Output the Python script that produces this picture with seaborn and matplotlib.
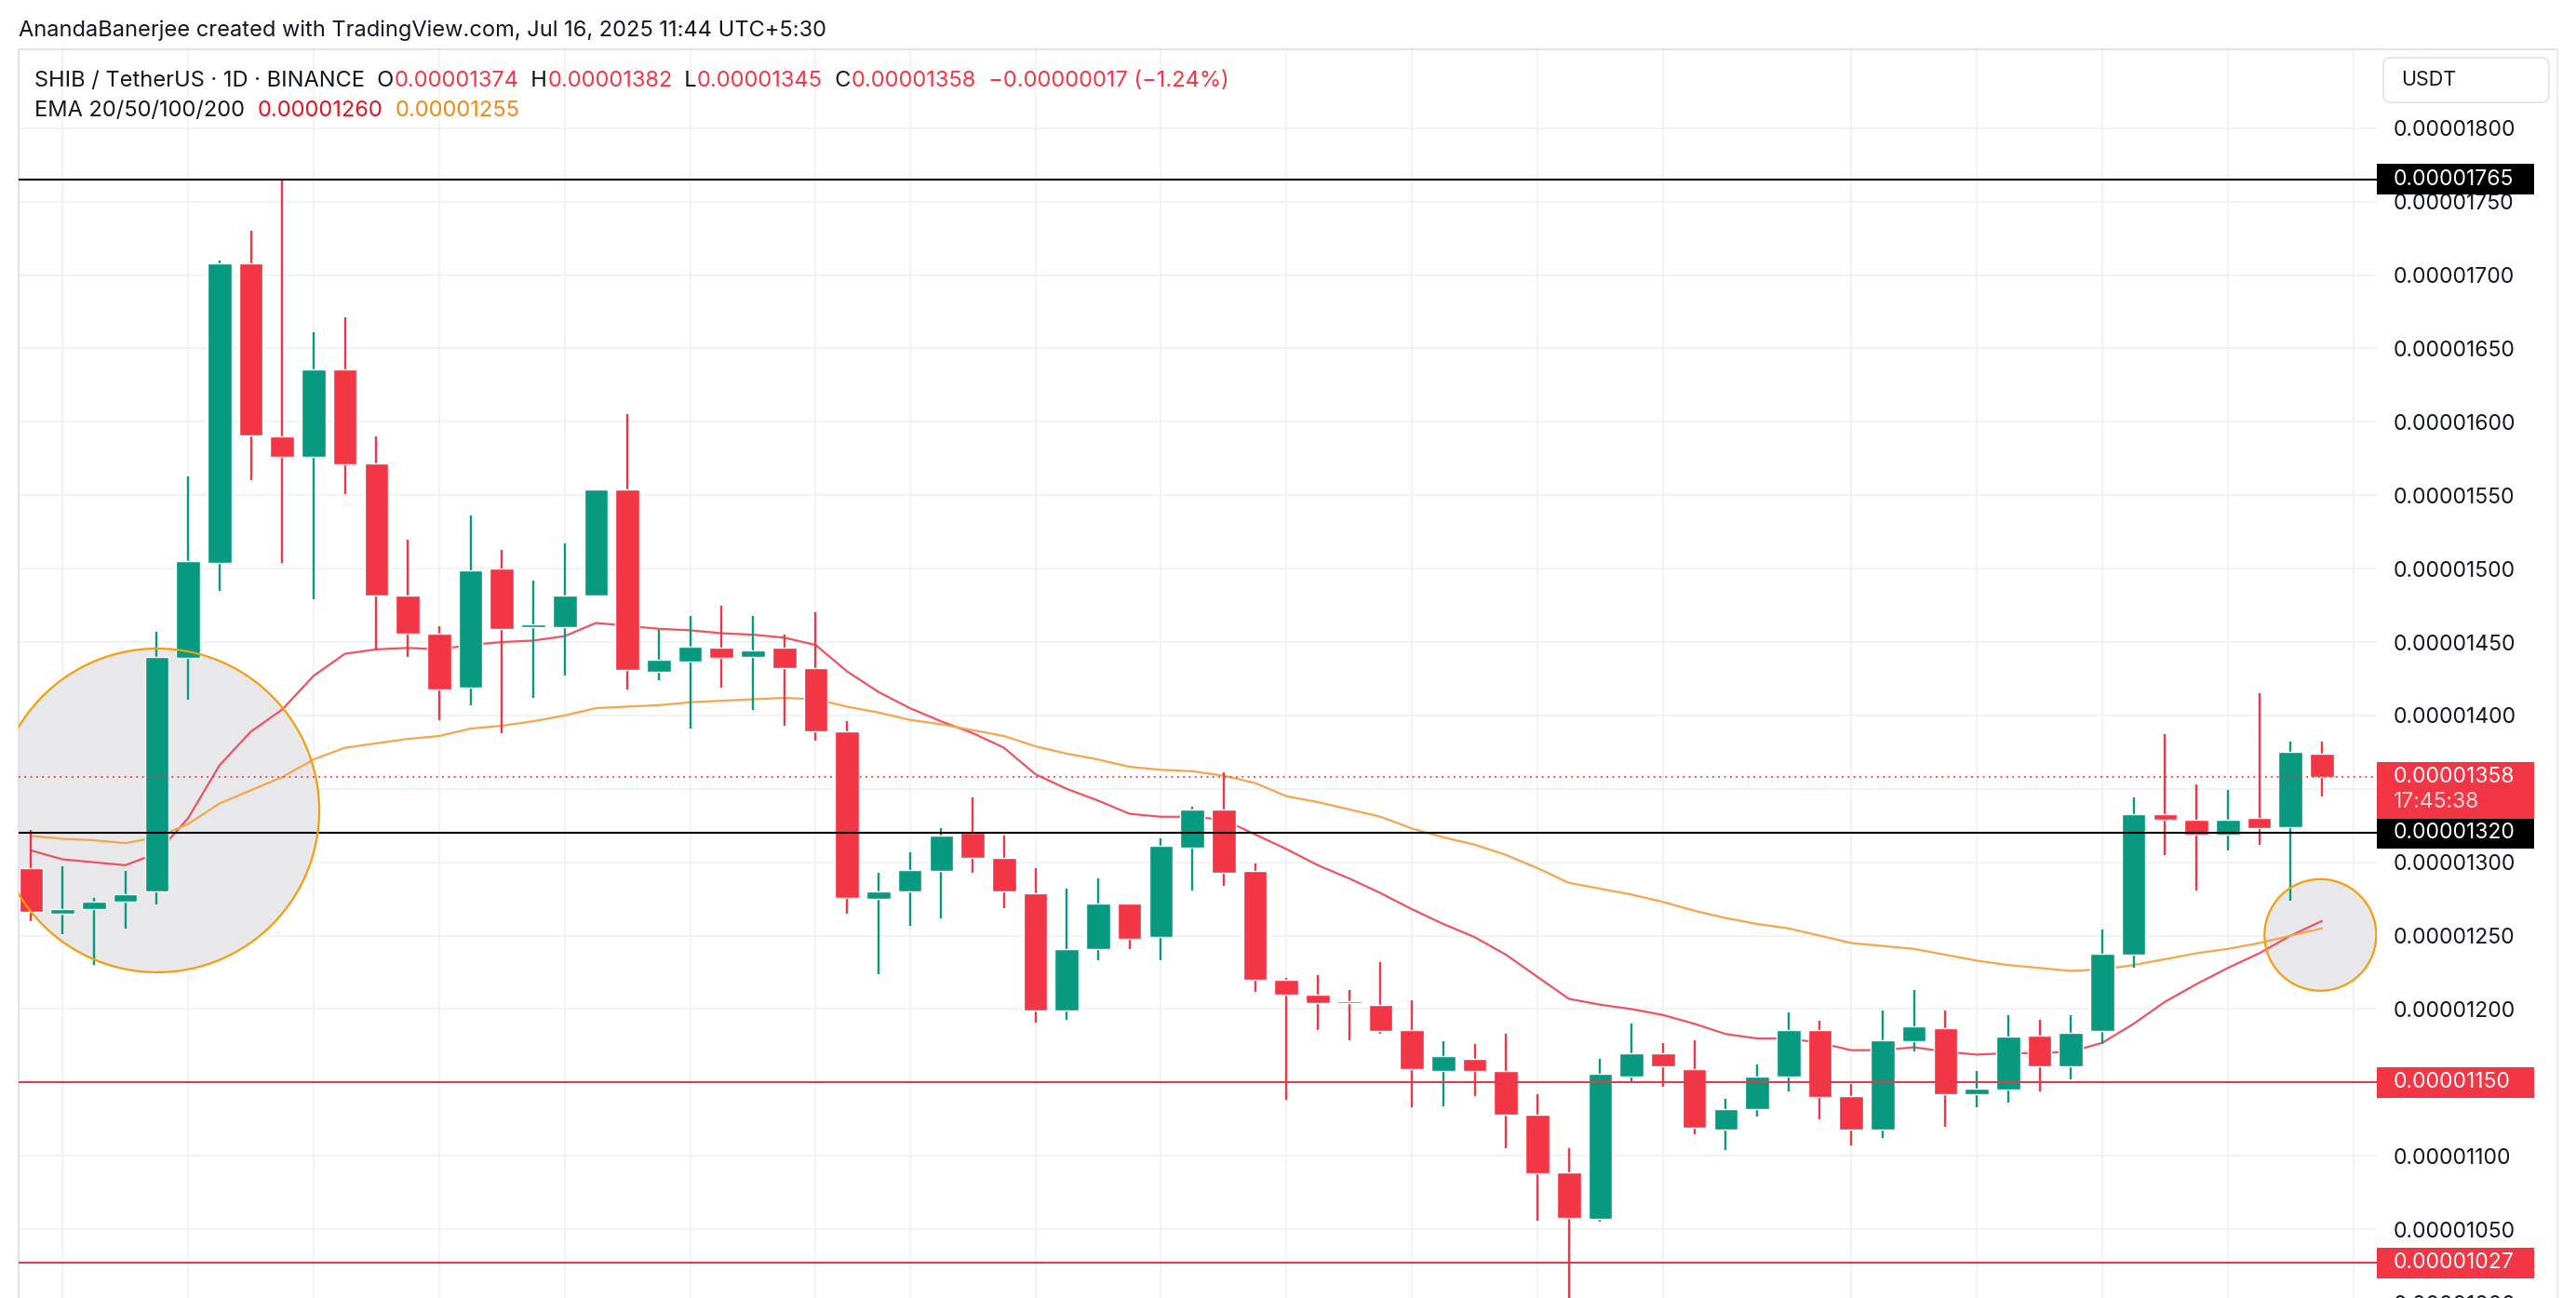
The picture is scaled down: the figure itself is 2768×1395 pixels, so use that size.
import numpy as np
import pandas as pd
import seaborn as sns
import matplotlib.pyplot as plt
from matplotlib.patches import Rectangle, Ellipse, FancyBboxPatch
from matplotlib.lines import Line2D
from matplotlib.ticker import FuncFormatter
from matplotlib.transforms import blended_transform_factory

# SHIB/USDT daily candles, prices in units of 1e-8 USDT (0.00001296 -> 1296)
opens = [1296, 1265, 1268, 1273, 1280, 1439, 1504, 1708, 1590, 1576,
         1636, 1572, 1482, 1456, 1419, 1500, 1460, 1460, 1482, 1554,
         1430, 1437, 1446, 1440, 1446, 1432, 1389, 1275, 1280, 1294,
         1320, 1303, 1279, 1199, 1241, 1272, 1249, 1310, 1336, 1294,
         1220, 1210, 1205, 1203, 1186, 1158, 1166, 1158, 1128, 1089,
         1057, 1154, 1170, 1159, 1118, 1132, 1154, 1186, 1141, 1118,
         1178, 1187, 1142, 1145, 1182, 1161, 1185, 1237, 1333, 1329,
         1319, 1330, 1324, 1374]
highs = [1322, 1297, 1276, 1294, 1457, 1563, 1710, 1730, 1765, 1661,
         1671, 1590, 1520, 1461, 1536, 1513, 1492, 1517, 1554, 1605,
         1458, 1468, 1475, 1468, 1455, 1470, 1396, 1293, 1307, 1323,
         1344, 1318, 1296, 1282, 1289, 1272, 1316, 1338, 1361, 1299,
         1221, 1223, 1213, 1232, 1206, 1178, 1176, 1183, 1142, 1105,
         1166, 1190, 1177, 1179, 1139, 1162, 1198, 1192, 1149, 1199,
         1213, 1199, 1158, 1196, 1193, 1196, 1254, 1344, 1387, 1353,
         1349, 1415, 1382, 1382]
lows = [1260, 1251, 1230, 1255, 1271, 1411, 1485, 1560, 1504, 1479,
        1551, 1445, 1440, 1397, 1407, 1388, 1412, 1427, 1482, 1418,
        1424, 1391, 1419, 1404, 1393, 1383, 1265, 1224, 1257, 1262,
        1293, 1269, 1191, 1193, 1233, 1241, 1233, 1281, 1284, 1212,
        1138, 1186, 1179, 1183, 1133, 1134, 1141, 1105, 1056, 995,
        1055, 1150, 1147, 1115, 1104, 1127, 1144, 1125, 1107, 1112,
        1171, 1120, 1133, 1136, 1144, 1152, 1176, 1228, 1305, 1281,
        1308, 1312, 1274, 1345]
closes = [1266, 1268, 1273, 1278, 1440, 1505, 1708, 1591, 1576, 1636,
          1571, 1482, 1456, 1418, 1499, 1459, 1462, 1482, 1554, 1431,
          1438, 1447, 1439, 1444, 1432, 1389, 1276, 1280, 1295, 1318,
          1303, 1280, 1199, 1241, 1272, 1248, 1311, 1336, 1293, 1220,
          1210, 1204, 1204, 1185, 1159, 1168, 1158, 1128, 1088, 1058,
          1156, 1170, 1161, 1119, 1132, 1154, 1186, 1140, 1118, 1179,
          1188, 1142, 1146, 1181, 1161, 1184, 1238, 1333, 1329, 1319,
          1329, 1323, 1375, 1358]
ema20 = [1308, 1302, 1300, 1298, 1306, 1330, 1366, 1389, 1404, 1427,
         1442, 1445, 1446, 1445, 1448, 1450, 1451, 1454, 1463, 1461,
         1459, 1458, 1456, 1455, 1453, 1448, 1430, 1416, 1405, 1396,
         1388, 1378, 1360, 1350, 1342, 1333, 1331, 1331, 1329, 1319,
         1309, 1298, 1289, 1279, 1268, 1258, 1249, 1237, 1222, 1207,
         1203, 1200, 1196, 1190, 1183, 1180, 1180, 1177, 1172, 1172,
         1174, 1171, 1169, 1170, 1170, 1171, 1177, 1190, 1205, 1217,
         1228, 1238, 1250, 1260]
ema50 = [1318, 1316, 1315, 1313, 1317, 1326, 1340, 1349, 1358, 1370,
         1378, 1381, 1384, 1386, 1391, 1393, 1396, 1400, 1405, 1406,
         1407, 1409, 1410, 1411, 1412, 1411, 1406, 1402, 1397, 1394,
         1390, 1386, 1379, 1374, 1370, 1365, 1363, 1362, 1359, 1354,
         1345, 1341, 1336, 1331, 1323, 1317, 1312, 1305, 1296, 1286,
         1282, 1278, 1273, 1267, 1262, 1258, 1255, 1250, 1245, 1243,
         1241, 1237, 1233, 1230, 1228, 1226, 1227, 1230, 1234, 1238,
         1241, 1245, 1250, 1255]

# date grid (weekly-ish marks plus month starts) as candle indices
day_marks = [1, 5, 9, 13, 17, 21, 25, 28, 32, 36, 40, 44, 48, 52, 58, 62, 66, 70, 74]
price_ticks = list(range(1000, 1801, 50))

black_levels = [1765, 1320]
red_levels = [1150, 1027]
last_price = 1358
countdown = '17:45:38'

header_1 = 'AnandaBanerjee created with TradingView.com, Jul 16, 2025 11:44 UTC+5:30'

UP, DOWN = '#089981', '#F23645'
INK = '#131722'
GRID = '#f0f1f4'

df = pd.DataFrame({'open': opens, 'high': highs, 'low': lows, 'close': closes,
                   'ema20': ema20, 'ema50': ema50})
df['idx'] = np.arange(len(df))
df['color'] = np.where(df['close'] >= df['open'], UP, DOWN)

sns.set_style('white')
plt.rcParams['font.family'] = ['Inter', 'DejaVu Sans']

W, H = 2768, 1395
fig = plt.figure(figsize=(W / 100, H / 100), dpi=100)
fig.patch.set_facecolor('white')


def fx(px):
    return px / W


def fy(py):
    return 1 - py / H


ax = fig.add_axes([fx(20), fy(1440), fx(2554) - fx(20), fy(53) - fy(1440)])
ax.set_xlim(-0.40, 74.75)
ax.set_ylim(974.7, 1853.7)


def price_label(v, pos):
    # the 1350 label sits under the last-price box
    if abs(v - 1350) < 1:
        return ''
    return f'{v / 1e8:.8f}'


# grid
ax.set_xticks(day_marks)
ax.set_yticks(price_ticks)
ax.grid(True, color=GRID, lw=1.2, zorder=0)
ax.set_axisbelow(True)
ax.tick_params(axis='x', length=0, labelbottom=False)
ax.yaxis.tick_right()
ax.tick_params(axis='y', length=0, pad=13, labelsize=16.5, labelcolor=INK)
ax.yaxis.set_major_formatter(FuncFormatter(price_label))
for side in ['right', 'bottom']:
    ax.spines[side].set_visible(False)
for side in ['left', 'top']:
    ax.spines[side].set_color('#e0e3eb')
    ax.spines[side].set_linewidth(1.5)

# highlight circles (fill below, outline above)
circles = [(4.02, 1335.3, 10.32, 220.5), (72.95, 1250.5, 3.56, 76.0)]
for cx, cy, w, h in circles:
    ax.add_patch(Ellipse((cx, cy), w, h, facecolor='#e8e8eb', edgecolor='none', zorder=1))
    ax.add_patch(Ellipse((cx, cy), w, h, facecolor='none', edgecolor='#f59e0b', lw=1.6, zorder=7))

# EMA lines
sns.lineplot(data=df, x='idx', y='ema20', ax=ax, color='#ef5361', linewidth=1.6, zorder=2.6)
sns.lineplot(data=df, x='idx', y='ema50', ax=ax, color='#f6a54c', linewidth=1.6, zorder=2.6)
ax.set_xlabel('')
ax.set_ylabel('')

# candles
ax.vlines(df['idx'], df['low'], df['high'], colors=df['color'], lw=1.7, zorder=3)
body_low = np.minimum(df['open'], df['close'])
body_h = np.maximum(np.abs(df['close'] - df['open']), 1.4)
ax.bar(df['idx'], body_h, bottom=body_low, width=0.76, color=df['color'], zorder=4)

# horizontal levels
for lv in black_levels:
    ax.axhline(lv, color='black', lw=1.5, zorder=6)
for lv in red_levels:
    ax.axhline(lv, color='#e03b4a', lw=1.5, zorder=6)
ax.axhline(last_price, color=DOWN, lw=1.3, ls=(0, (1, 2.5)), zorder=6)

# price-scale label boxes
tr = blended_transform_factory(ax.transAxes, ax.transData)
box_w = 169 / 2534
text_x = 1 + 18 / 2534
unit = 1.578  # pixels per price unit
half = 16.5 / unit


def level_box(price, face, fg='white'):
    ax.add_patch(Rectangle((1.0, price - half), box_w, 2 * half, transform=tr,
                           facecolor=face, edgecolor='none', clip_on=False, zorder=10))
    ax.text(text_x, price, f'{price / 1e8:.8f}', transform=tr, color=fg, fontsize=16.5,
            va='center', ha='left', zorder=11, clip_on=False)


for lv in black_levels:
    level_box(lv, 'black')
for lv in red_levels:
    level_box(lv, DOWN)

ax.add_patch(Rectangle((1.0, last_price - 45 / unit), box_w, 61 / unit, transform=tr,
                       facecolor=DOWN, edgecolor='none', clip_on=False, zorder=10))
ax.text(text_x, last_price, f'{last_price / 1e8:.8f}', transform=tr, color='white',
        fontsize=16.5, va='center', ha='left', zorder=11)
ax.text(text_x, last_price - 27 / unit, countdown, transform=tr, color='#fcd9dc',
        fontsize=16.5, va='center', ha='left', zorder=11)

# USDT box and pane borders
fig.add_artist(FancyBboxPatch((2561 / 100, (H - 110) / 100), 178 / 100, 48 / 100,
                              boxstyle='round,pad=0,rounding_size=0.08',
                              transform=fig.dpi_scale_trans, facecolor='white',
                              edgecolor='#e0e3eb', lw=1.2))
fig.text(fx(2580), fy(86), 'USDT', fontsize=15.5, color=INK, va='center', ha='left')
fig.add_artist(Line2D([fx(2554), fx(2748)], [fy(53), fy(53)], color='#e0e3eb', lw=1.5))
fig.add_artist(Line2D([fx(2748), fx(2748)], [fy(53), 0], color='#eceef2', lw=1.5))

# header texts
fig.text(fx(20), fy(33), header_1, fontsize=17, color=INK, va='center', ha='left')


def text_chain(parts, x, y, size=17):
    t = fig.text(x, y, parts[0][0], fontsize=size, color=parts[0][1], va='center', ha='left')
    for s, c in parts[1:]:
        t = ax.annotate(s, xy=(1, 0), xycoords=t, va='bottom', ha='left',
                        fontsize=size, color=c)
    return t


ohlc_parts = [('SHIB / TetherUS · 1D · BINANCE  O', INK), (f'{opens[-1] / 1e8:.8f}', DOWN),
              ('  H', INK), (f'{highs[-1] / 1e8:.8f}', DOWN),
              ('  L', INK), (f'{lows[-1] / 1e8:.8f}', DOWN),
              ('  C', INK), (f'{closes[-1] / 1e8:.8f}', DOWN),
              ('  \u22120.00000017 (\u22121.24%)', DOWN)]
text_chain(ohlc_parts, fx(37), fy(87))
ema_parts = [('EMA 20/50/100/200  ', INK), (f'{ema20[-1] / 1e8:.8f}', '#e8101c'),
             ('  ', INK), (f'{ema50[-1] / 1e8:.8f}', '#f08a12')]
text_chain(ema_parts, fx(37), fy(119))

fig.savefig('out.png', dpi=100, facecolor='white')
